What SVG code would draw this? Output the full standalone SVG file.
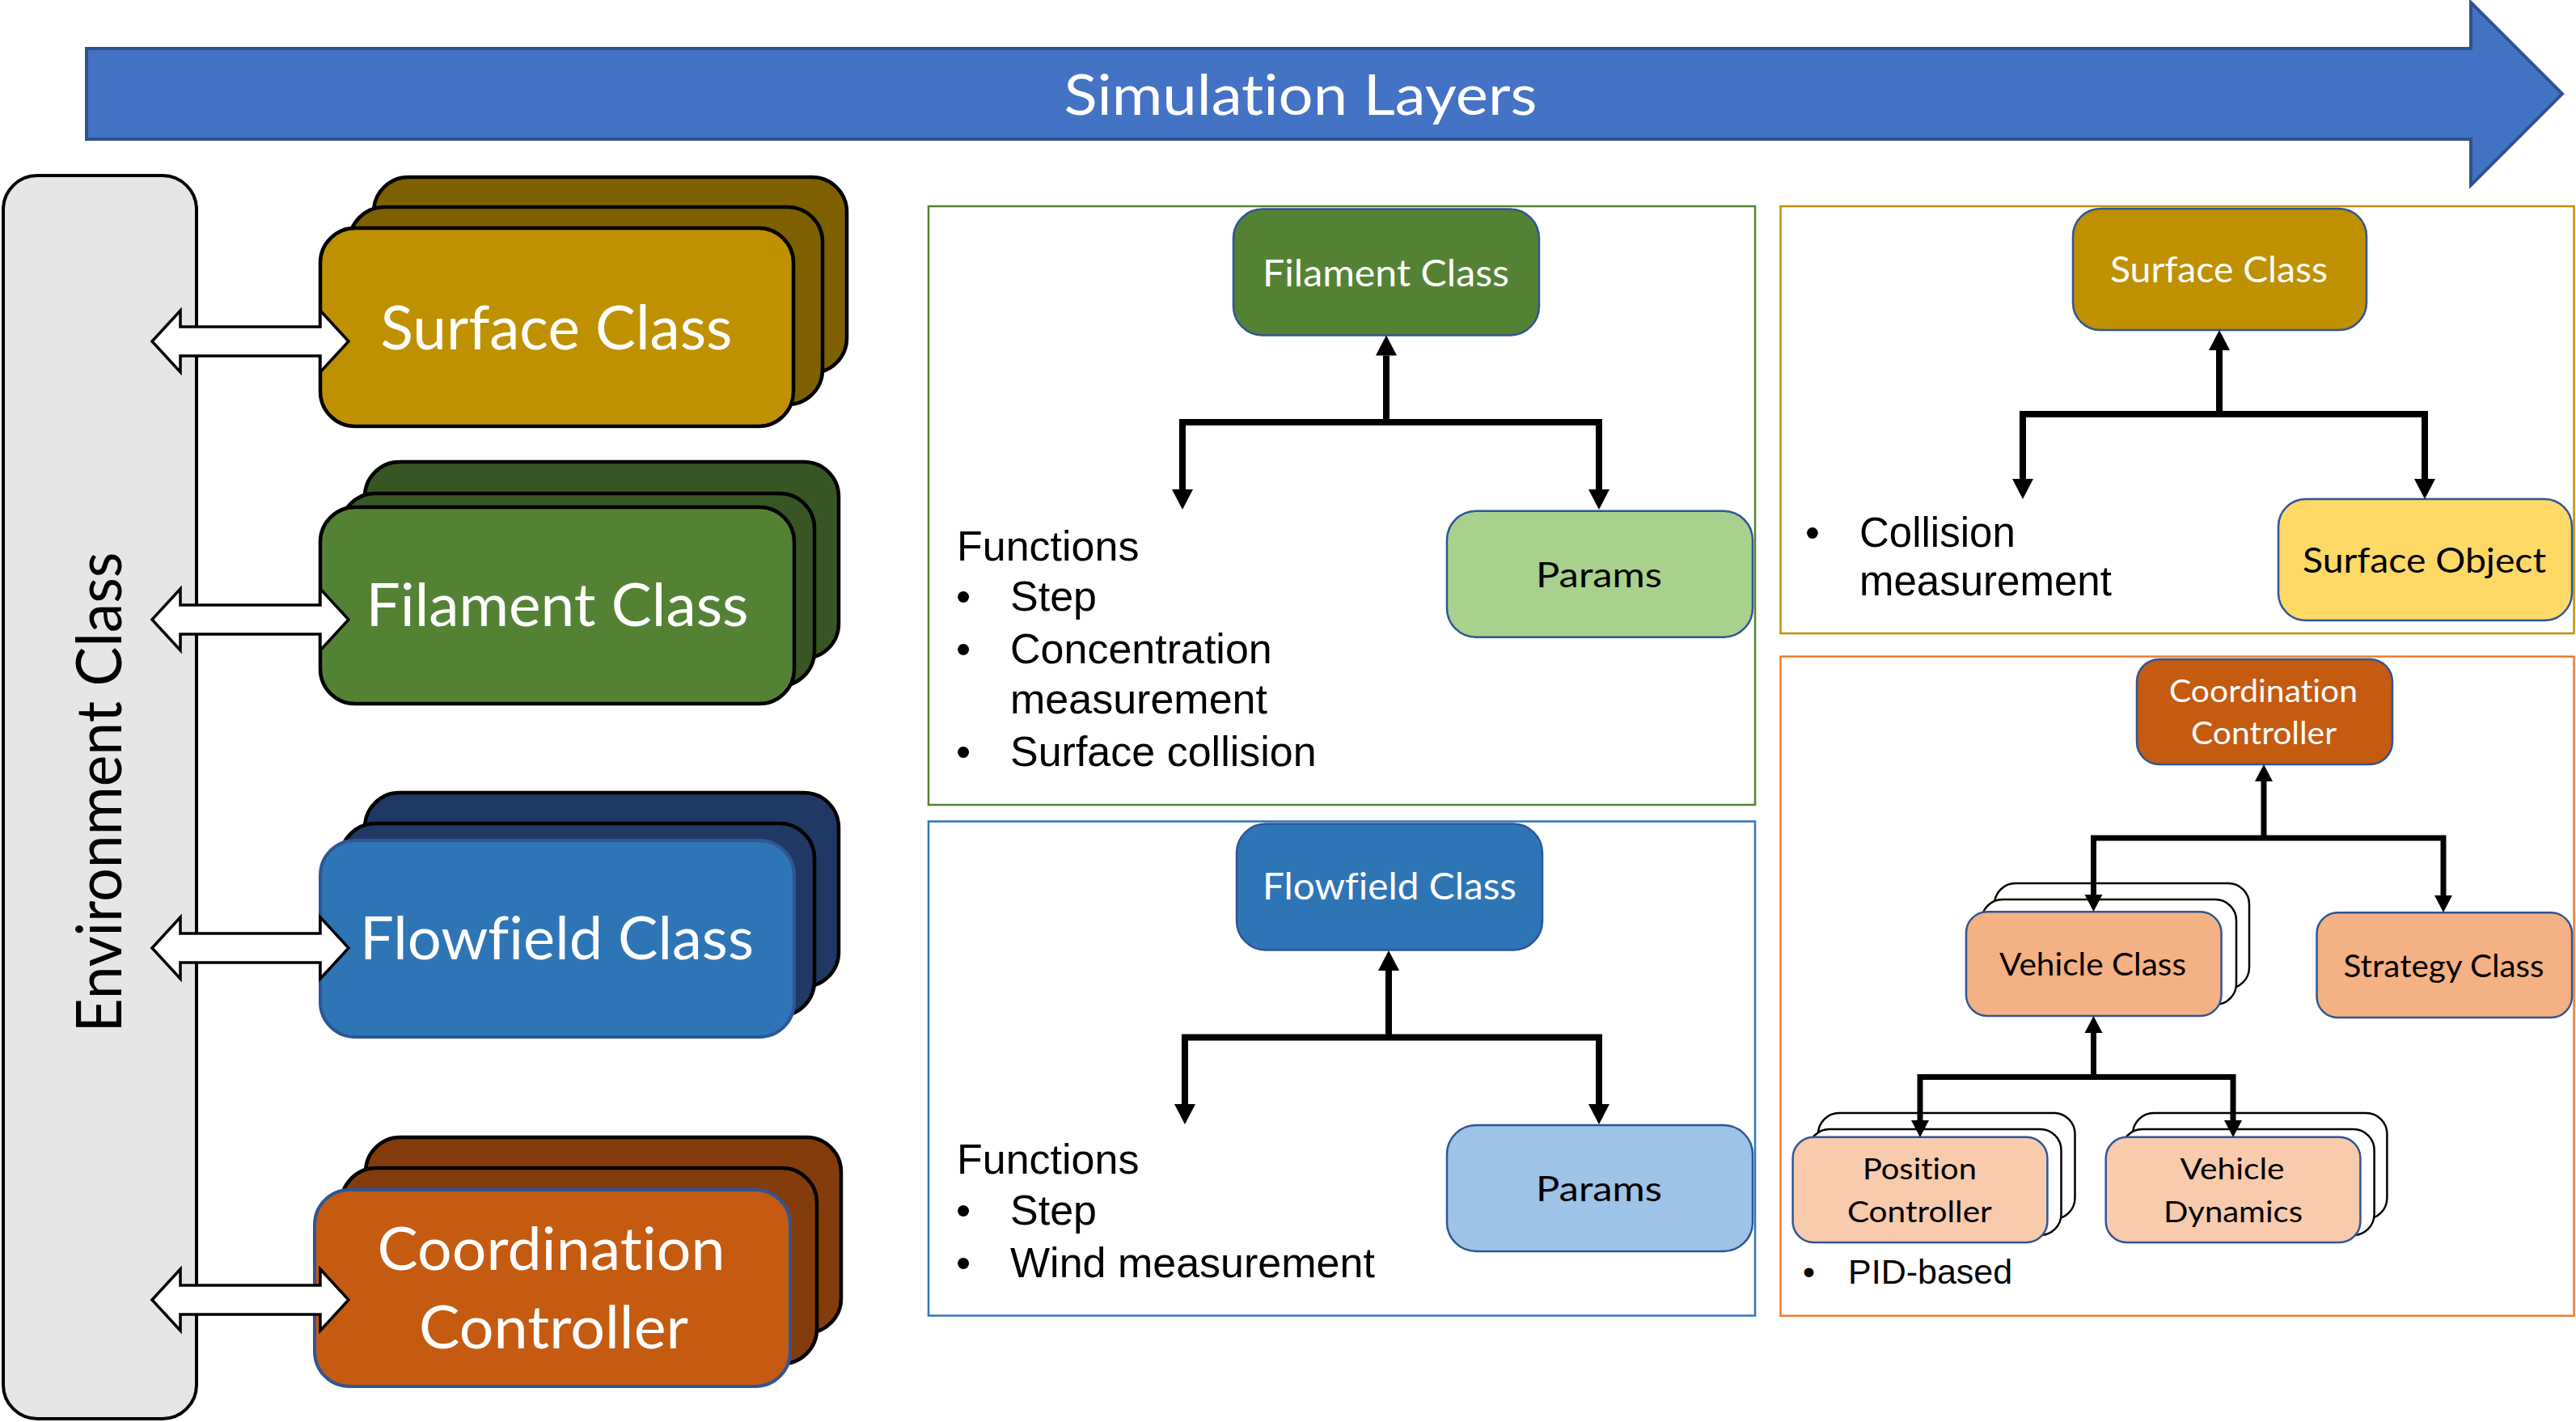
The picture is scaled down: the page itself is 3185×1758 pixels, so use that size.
<svg xmlns="http://www.w3.org/2000/svg" width="3185" height="1758" viewBox="0 0 3185 1758">
<defs>
<style>
.cal{font-family:Lato,"Open Sans","Liberation Sans",sans-serif;font-variant-ligatures:none;}
.ar{font-family:"Liberation Sans",Arial,sans-serif;fill:#000;}
.w{fill:#fff;}
.k{fill:#000;}
.stk{stroke:#000;stroke-width:4.5;}
.nd{stroke:#2F5597;stroke-width:2.5;}
.wb{fill:#fff;stroke:#000;stroke-width:2.5;}
.frame{fill:none;stroke-width:2.5;}
.con{fill:none;stroke:#000;stroke-width:8;stroke-linejoin:miter;}
.con2{fill:none;stroke:#000;stroke-width:7;stroke-linejoin:miter;}
.dbl{fill:#fff;stroke:#000;stroke-width:3.5;stroke-linejoin:miter;}
</style>
<marker id="ah" markerUnits="userSpaceOnUse" markerWidth="26" markerHeight="28" refX="0" refY="13" orient="auto-start-reverse" viewBox="0 0 26 26" overflow="visible">
<path d="M0,0 L25,13 L0,26 z" fill="#000"/>
</marker>
<marker id="ahs" markerUnits="userSpaceOnUse" markerWidth="22" markerHeight="22" refX="0" refY="11" orient="auto-start-reverse" viewBox="0 0 22 22" overflow="visible">
<path d="M0,0 L21,11 L0,22 z" fill="#000"/>
</marker>
</defs>
<rect width="3185" height="1758" fill="#fff"/>

<g id="simulation-layers">
<polygon points="107,60 3055,60 3055,3 3168,116 3055,229 3055,172 107,172" fill="#4472C4" stroke="#2F528F" stroke-width="4"/>
<text class="cal w" x="1608" y="141.7" font-size="70" text-anchor="middle" textLength="585" lengthAdjust="spacingAndGlyphs">Simulation Layers</text>
</g>

<g id="environment-class">
<rect x="4" y="217" width="239" height="1537" rx="42" ry="42" fill="#E6E6E6" stroke="#000" stroke-width="4"/>
<text class="cal k" transform="translate(150,979.5) rotate(-90)" font-size="77" text-anchor="middle" textLength="594" lengthAdjust="spacingAndGlyphs">Environment Class</text>
</g>

<g id="surface-stack">
<rect class="stk" x="462" y="219" width="585" height="242" rx="43" fill="#7F6000"/>
<rect class="stk" x="432" y="256" width="585" height="244" rx="43" fill="#7F6000"/>
<rect class="stk" x="396" y="282" width="585" height="245" rx="43" fill="#BF9000"/>
<text class="cal w" x="688" y="432" font-size="75" text-anchor="middle" textLength="435" lengthAdjust="spacingAndGlyphs">Surface Class</text>
</g>

<g id="filament-stack">
<rect class="stk" x="451" y="571" width="586" height="243" rx="43" fill="#375623"/>
<rect class="stk" x="421" y="610" width="586" height="238" rx="43" fill="#375623"/>
<rect class="stk" x="396" y="627" width="586" height="243" rx="43" fill="#548235"/>
<text class="cal w" x="689" y="774" font-size="74" text-anchor="middle" textLength="473" lengthAdjust="spacingAndGlyphs">Filament Class</text>
</g>

<g id="flowfield-stack">
<rect class="stk" x="451" y="980" width="586" height="240" rx="43" fill="#203864"/>
<rect class="stk" x="421" y="1018" width="586" height="238" rx="43" fill="#203864"/>
<rect x="396" y="1039" width="586" height="243" rx="43" fill="#2E75B6" stroke="#2F5597" stroke-width="4"/>
<text class="cal w" x="688.5" y="1186" font-size="74" text-anchor="middle" textLength="487" lengthAdjust="spacingAndGlyphs">Flowfield Class</text>
</g>

<g id="coordination-stack">
<rect class="stk" x="452" y="1406" width="588" height="242" rx="43" fill="#843C0C"/>
<rect class="stk" x="422" y="1444" width="588" height="242" rx="43" fill="#843C0C"/>
<rect x="389" y="1471" width="588" height="243" rx="43" fill="#C55A11" stroke="#2F5597" stroke-width="4"/>
<text class="cal w" x="681.5" y="1569.5" font-size="74" text-anchor="middle" textLength="430" lengthAdjust="spacingAndGlyphs">Coordination</text>
<text class="cal w" x="684.5" y="1667" font-size="74" text-anchor="middle" textLength="333" lengthAdjust="spacingAndGlyphs">Controller</text>
</g>

<g id="env-links">
<polygon class="dbl" points="188,422 223,384 223,404 396,404 396,384 431,422 396,460 396,440 223,440 223,460"/>
<polygon class="dbl" points="188,766 223,728 223,748 396,748 396,728 431,766 396,804 396,784 223,784 223,804"/>
<polygon class="dbl" points="188,1172 223,1134 223,1154 396,1154 396,1134 431,1172 396,1210 396,1190 223,1190 223,1210"/>
<polygon class="dbl" points="188,1607 223,1569 223,1589 396,1589 396,1569 431,1607 396,1645 396,1625 223,1625 223,1645"/>
</g>

<g id="filament-panel">
<rect class="frame" x="1148" y="255" width="1022" height="740" stroke="#548235"/>
<g id="filament-node">
<rect class="nd" x="1525" y="258.5" width="378" height="156" rx="36" fill="#548235"/>
<text class="cal w" x="1713.5" y="354" font-size="46" text-anchor="middle" textLength="305" lengthAdjust="spacingAndGlyphs">Filament Class</text>
</g>
<g id="filament-params">
<rect class="nd" x="1789" y="631.7" width="378" height="156" rx="36" fill="#A9D18E"/>
<text class="cal k" x="1977" y="726" font-size="43" text-anchor="middle" textLength="156" lengthAdjust="spacingAndGlyphs">Params</text>
</g>
<g id="filament-functions">
<text class="ar" x="1183" y="693" font-size="52">Functions</text>
<text class="ar" x="1182" y="755" font-size="52">•</text>
<text class="ar" x="1249" y="755" font-size="52">Step</text>
<text class="ar" x="1182" y="820" font-size="52">•</text>
<text class="ar" x="1249" y="820" font-size="52">Concentration</text>
<text class="ar" x="1249" y="882" font-size="52">measurement</text>
<text class="ar" x="1182" y="947" font-size="52">•</text>
<text class="ar" x="1249" y="947" font-size="52">Surface collision</text>
</g>
</g>

<g id="flowfield-panel">
<rect class="frame" x="1148" y="1015.5" width="1022" height="611" stroke="#2E75B6"/>
<g id="flowfield-node">
<rect class="nd" x="1529" y="1018.5" width="378" height="156" rx="36" fill="#2E75B6"/>
<text class="cal w" x="1718" y="1112" font-size="46" text-anchor="middle" textLength="314" lengthAdjust="spacingAndGlyphs">Flowfield Class</text>
</g>
<g id="flowfield-params">
<rect class="nd" x="1789" y="1391" width="378" height="156" rx="36" fill="#9DC3E6"/>
<text class="cal k" x="1977" y="1485" font-size="43" text-anchor="middle" textLength="156" lengthAdjust="spacingAndGlyphs">Params</text>
</g>
<g id="flowfield-functions">
<text class="ar" x="1183" y="1451" font-size="52">Functions</text>
<text class="ar" x="1182" y="1514" font-size="52">•</text>
<text class="ar" x="1249" y="1514" font-size="52">Step</text>
<text class="ar" x="1182" y="1579" font-size="52">•</text>
<text class="ar" x="1249" y="1579" font-size="52">Wind measurement</text>
</g>
</g>

<g id="surface-panel">
<rect class="frame" x="2201.5" y="255" width="981" height="528" stroke="#BF9000"/>
<g id="surface-node">
<rect class="nd" x="2563" y="258" width="363" height="150" rx="34" fill="#BF9000"/>
<text class="cal w" x="2743.5" y="349" font-size="45" text-anchor="middle" textLength="269" lengthAdjust="spacingAndGlyphs">Surface Class</text>
</g>
<g id="surface-object">
<rect class="nd" x="2817" y="617" width="363" height="150" rx="34" fill="#FFD966"/>
<text class="cal k" x="2997.5" y="708" font-size="43" text-anchor="middle" textLength="301" lengthAdjust="spacingAndGlyphs">Surface Object</text>
</g>
<g id="surface-functions">
<text class="ar" x="2232" y="676" font-size="51">•</text>
<text class="ar" x="2299" y="676" font-size="51">Collision</text>
<text class="ar" x="2299" y="736" font-size="51">measurement</text>
</g>
</g>

<g id="coordination-panel">
<rect class="frame" x="2201.5" y="811.7" width="981" height="815" stroke="#ED7D31"/>
<g id="coord-node">
<rect class="nd" x="2642" y="815" width="316" height="130" rx="28" fill="#C55A11"/>
<text class="cal w" x="2798.5" y="868" font-size="39" text-anchor="middle" textLength="233" lengthAdjust="spacingAndGlyphs">Coordination</text>
<text class="cal w" x="2799" y="920" font-size="39" text-anchor="middle" textLength="180" lengthAdjust="spacingAndGlyphs">Controller</text>
</g>
<g id="vehicle-class">
<rect class="wb" x="2466" y="1092" width="315" height="130" rx="26"/>
<rect class="wb" x="2450" y="1112" width="315" height="130" rx="26"/>
<rect class="nd" x="2431" y="1127.3" width="315.5" height="128.7" rx="26" fill="#F4B183"/>
<text class="cal k" x="2587.5" y="1206" font-size="39" text-anchor="middle" textLength="231" lengthAdjust="spacingAndGlyphs">Vehicle Class</text>
</g>
<g id="strategy-class">
<rect class="nd" x="2864.5" y="1128.3" width="315.5" height="129.7" rx="26" fill="#F4B183"/>
<text class="cal k" x="3021.5" y="1208" font-size="39" text-anchor="middle" textLength="248" lengthAdjust="spacingAndGlyphs">Strategy Class</text>
</g>
<g id="position-controller">
<rect class="wb" x="2248" y="1376" width="317.5" height="131" rx="26"/>
<rect class="wb" x="2236" y="1396" width="312.5" height="131" rx="26"/>
<rect class="nd" x="2216.6" y="1405.7" width="314.8" height="130.3" rx="26" fill="#F8CBAD"/>
<text class="cal k" x="2373.4" y="1458" font-size="37" text-anchor="middle" textLength="141" lengthAdjust="spacingAndGlyphs">Position</text>
<text class="cal k" x="2373.4" y="1510.7" font-size="37" text-anchor="middle" textLength="179" lengthAdjust="spacingAndGlyphs">Controller</text>
</g>
<g id="vehicle-dynamics">
<rect class="wb" x="2637" y="1376" width="314.4" height="131" rx="26"/>
<rect class="wb" x="2623" y="1396" width="312.6" height="131" rx="26"/>
<rect class="nd" x="2603.7" y="1405.7" width="314.7" height="130.3" rx="26" fill="#F8CBAD"/>
<text class="cal k" x="2760" y="1458" font-size="37" text-anchor="middle" textLength="129" lengthAdjust="spacingAndGlyphs">Vehicle</text>
<text class="cal k" x="2761" y="1510.7" font-size="37" text-anchor="middle" textLength="172" lengthAdjust="spacingAndGlyphs">Dynamics</text>
</g>
<g id="pid-note">
<text class="ar" x="2229" y="1586.7" font-size="43">•</text>
<text class="ar" x="2285" y="1586.7" font-size="43">PID-based</text>
</g>
</g>

<g id="connectors">
<path class="con" d="M1714,522 V439.5" marker-end="url(#ah)"/>
<path class="con" d="M1462,605 V522 H1977 V605" marker-start="url(#ah)" marker-end="url(#ah)"/>
<path class="con" d="M1717,1282.5 V1200" marker-end="url(#ah)"/>
<path class="con" d="M1465,1365 V1282.5 H1977 V1365" marker-start="url(#ah)" marker-end="url(#ah)"/>
<path class="con" d="M2744,512 V433" marker-end="url(#ah)"/>
<path class="con" d="M2501,592 V512 H2998 V592" marker-start="url(#ah)" marker-end="url(#ah)"/>
<path class="con2" d="M2799,1036 V966" marker-end="url(#ahs)"/>
<path class="con2" d="M2588.5,1106 V1036 H3021 V1107" marker-start="url(#ahs)" marker-end="url(#ahs)"/>
<path class="con2" d="M2588.5,1331.5 V1277" marker-end="url(#ahs)"/>
<path class="con2" d="M2374,1385 V1331.5 H2761 V1385" marker-start="url(#ahs)" marker-end="url(#ahs)"/>
</g>
</svg>
